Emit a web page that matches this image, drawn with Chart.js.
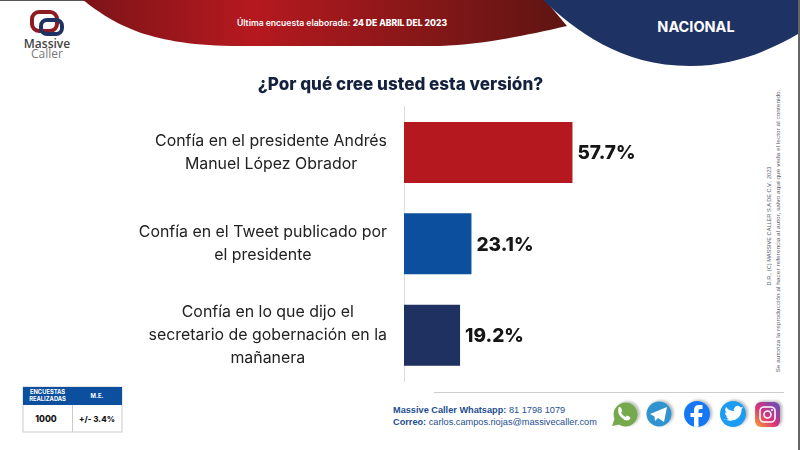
<!DOCTYPE html>
<html>
<head>
<meta charset="utf-8">
<style>
  html, body { margin: 0; padding: 0; background: #fff; }
  #wrap { position: relative; width: 800px; height: 450px; overflow: hidden; }
  #deco, #chartCanvas { position: absolute; left: 0; top: 0; }
</style>
</head>
<body>
<div id="wrap">
<svg id="deco" width="800" height="450" viewBox="0 0 800 450" font-family="Inter, sans-serif">
  <defs>
    <linearGradient id="redGrad" x1="0" x2="1" y1="0" y2="0">
      <stop offset="0" stop-color="#7c1418"/>
      <stop offset="0.35" stop-color="#b5191f"/>
      <stop offset="1" stop-color="#5e1512"/>
    </linearGradient>
    <linearGradient id="igGrad" x1="0" x2="1" y1="1" y2="0">
      <stop offset="0" stop-color="#f9a431"/>
      <stop offset="0.45" stop-color="#d9317a"/>
      <stop offset="1" stop-color="#5a4fc4"/>
    </linearGradient>
    <filter id="shadow" x="-30%" y="-30%" width="170%" height="170%">
      <feDropShadow dx="2" dy="-1" stdDeviation="1.5" flood-color="#000" flood-opacity="0.3"/>
    </filter>
    <clipPath id="fbClip"><circle cx="697" cy="414" r="13"/></clipPath>
  </defs>
  <rect x="0" y="0" width="800" height="1" fill="#555"/>
  <rect x="798" y="0" width="2" height="450" fill="#666"/>
  <path d="M83 0 C115 25 150 46 240 46 L440 46 C480 44 515 38 567 26 L545 0 Z" fill="url(#redGrad)"/>
  <path d="M543 0 C575 30 620 66 690 66 C735 66 770 50 798 34 L798 0 Z" fill="#1f3264"/>
  <text x="342" y="26" text-anchor="middle" fill="#fff" font-size="8.6" font-weight="600">Última encuesta elaborada:  <tspan font-weight="800">24 DE ABRIL DEL 2023</tspan></text>
  <text x="696" y="32" text-anchor="middle" fill="#fff" font-size="14.5" font-weight="700">NACIONAL</text>

  <!-- logo -->
  <rect x="32" y="12" width="25" height="19" rx="7" fill="none" stroke="#8c1c22" stroke-width="4"/>
  <rect x="41" y="20" width="21" height="14" rx="6" fill="none" stroke="#1f3264" stroke-width="4"/>
  <text x="47" y="48" text-anchor="middle" fill="#444" font-size="12" font-weight="600" font-family="'Open Sans', sans-serif">Massive</text>
  <text x="47" y="58" text-anchor="middle" fill="#777" font-size="12" font-family="'Open Sans', sans-serif">Caller</text>

  <!-- sample table -->
  <rect x="23" y="387" width="99" height="45" fill="#fff" stroke="#ccc"/>
  <rect x="23" y="387" width="99" height="18" fill="#0b4f9e"/>
  <line x1="72.5" y1="405" x2="72.5" y2="432" stroke="#ccc"/>
  <text x="47.5" y="394" text-anchor="middle" fill="#fff" font-size="5.8" font-weight="700">ENCUESTAS</text>
  <text x="47.5" y="401" text-anchor="middle" fill="#fff" font-size="5.8" font-weight="700">REALIZADAS</text>
  <text x="97" y="398" text-anchor="middle" fill="#fff" font-size="5.8" font-weight="700">M.E.</text>
  <text x="46" y="422" text-anchor="middle" fill="#111" font-size="8.5" font-weight="800">1000</text>
  <text x="97" y="422" text-anchor="middle" fill="#111" font-size="8" font-weight="800">+/- 3.4%</text>

  <!-- footer -->
  <line x1="434" y1="392.5" x2="784" y2="392.5" stroke="#ccc"/>
  <g font-family="'Liberation Sans', sans-serif" font-size="9.2" fill="#1d4e8f">
    <text x="393" y="413"><tspan font-weight="700">Massive Caller Whatsapp:</tspan> 81 1798  1079</text>
    <text x="393" y="425"><tspan font-weight="700">Correo:</tspan> carlos.campos.riojas@massivecaller.com</text>
  </g>

  <!-- social icons -->
  <g filter="url(#shadow)">
    <path d="M612 426 L614.5 419 A12 12 0 1 1 619 424.5 Z" fill="#76a94e"/>
    <path d="M618 408 q2 -2 3 0 l1.5 3 -1.5 1.5 q1.5 3 4.5 4.5 l1.5 -1.5 3 1.5 q1 2 -1 3 q-4 1.5 -8 -3 q-4 -4 -2.5 -9 Z" fill="#fff"/>
  </g>
  <g filter="url(#shadow)">
    <circle cx="659" cy="414" r="12.5" fill="#2f93cf"/>
    <path d="M650 414 L667 407 L664 422 L658 418 L655 421 L654.5 416.5 Z" fill="#fff"/>
  </g>
  <g filter="url(#shadow)">
    <circle cx="697" cy="414" r="13" fill="#1877f2"/>
    <path d="M694 427 L694 417 L690.5 417 L690.5 413 L694 413 L694 410 Q694 405 699 405 L702.5 405 L702.5 409 L700 409 Q698.5 409 698.5 410.5 L698.5 413 L702.5 413 L702 417 L698.5 417 L698.5 427 Z" fill="#fff" clip-path="url(#fbClip)"/>
  </g>
  <g filter="url(#shadow)">
    <circle cx="733" cy="414" r="13" fill="#1d9bf0"/>
    <path d="M724 419 q8 4 14 -1 q4 -4 3.5 -9 l2 -2 -2.5 0.5 q-3 -3 -6 -0.5 q-2 2 -1 4 q-5 0 -8 -4 q-2 3.5 1 6 l-2 -0.5 q0 3 3 4 l-2 0 q1 2 3 2.5 q-2 1 -5 0.5 Z" fill="#fff"/>
  </g>
  <g filter="url(#shadow)">
    <rect x="755" y="402" width="25" height="25" rx="6" fill="url(#igGrad)"/>
    <rect x="760" y="407" width="15" height="15" rx="4" fill="none" stroke="#fff" stroke-width="1.6"/>
    <circle cx="767.5" cy="414.5" r="3.5" fill="none" stroke="#fff" stroke-width="1.6"/>
    <circle cx="772" cy="410" r="1" fill="#fff"/>
  </g>

  <!-- side note -->
  <g font-family="'Liberation Sans', sans-serif" font-size="5.6" fill="#5a6270" text-anchor="middle">
    <text transform="translate(771 226) rotate(-90)">D.R., (C) MASSIVE CALLER S.A DE C.V., 2023</text>
    <text transform="translate(780 231) rotate(-90)" textLength="283" lengthAdjust="spacingAndGlyphs">Se autoriza la reproducción al hacer referencia al autor, salvo aquí que veda el lector al contenido.</text>
  </g>
</svg>
<canvas id="chartCanvas" width="800" height="450"></canvas>
</div>

<script src="https://cdn.jsdelivr.net/npm/chart.js@4/dist/chart.umd.min.js"></script>
<script>
const categories = [
  ["Confía en el presidente Andrés", "Manuel López Obrador"],
  ["Confía en el Tweet publicado por", "el presidente"],
  ["Confía en lo que dijo el", "secretario de gobernación en la", "mañanera"]
];
const percentages = [57.7, 23.1, 19.2];
const barColors = ["#b5191f", "#0b4f9e", "#1f3160"];
const chartTitle = "¿Por qué cree usted esta versión?";

const LABEL_FONT = "15.9px Inter, sans-serif";
const LINE_HEIGHT = 23;

// category labels: each block ends at the same right edge, lines centred inside the block
const categoryLabels = {
  id: "categoryLabels",
  afterDraw(chart) {
    const ctx = chart.ctx;
    const scale = chart.scales.y;
    ctx.save();
    ctx.font = LABEL_FONT;
    ctx.fillStyle = "#222222";
    ctx.textAlign = "center";
    ctx.textBaseline = "middle";
    categories.forEach((lines, i) => {
      const widest = Math.max(...lines.map(l => ctx.measureText(l).width));
      const cx = scale.right - 17 - widest / 2;
      const y0 = scale.getPixelForTick(i) - (lines.length - 1) * LINE_HEIGHT / 2;
      lines.forEach((line, j) => ctx.fillText(line, cx, y0 + j * LINE_HEIGHT));
    });
    ctx.restore();
  }
};

// draws the percentage next to each bar
const valueLabels = {
  id: "valueLabels",
  afterDatasetsDraw(chart) {
    const ctx = chart.ctx;
    const meta = chart.getDatasetMeta(0);
    ctx.save();
    ctx.font = "800 19px Inter, sans-serif";
    ctx.fillStyle = "#161616";
    ctx.textAlign = "left";
    ctx.textBaseline = "middle";
    meta.data.forEach((bar, i) => {
      ctx.fillText(percentages[i].toFixed(1) + "%", bar.x + 5, bar.y + 1);
    });
    ctx.restore();
  }
};

const ctx = document.getElementById("chartCanvas").getContext("2d");
const chart = new Chart(ctx, {
  type: "bar",
  data: {
    labels: categories,
    datasets: [{
      data: percentages,
      backgroundColor: barColors,
      barPercentage: 0.667,
      categoryPercentage: 1,
    }]
  },
  options: {
    indexAxis: "y",
    responsive: false,
    animation: false,
    layout: { padding: { top: 0, right: 104, bottom: 69, left: 105 } },
    scales: {
      x: { display: false, min: 0, max: 100 },
      y: {
        afterFit: (axis) => { axis.width = 299; },
        grid: { display: false },
        border: { color: "#dddddd", width: 1 },
        ticks: { display: false },
      },
    },
    plugins: {
      legend: { display: false },
      tooltip: { enabled: false },
      title: {
        display: true,
        text: chartTitle,
        color: "#14213d",
        font: { family: "Inter, sans-serif", size: 17.1, weight: "800" },
        padding: { top: 75, bottom: 11.2 },
      },
    },
  },
  plugins: [valueLabels, categoryLabels],
});
</script>
</body>
</html>
